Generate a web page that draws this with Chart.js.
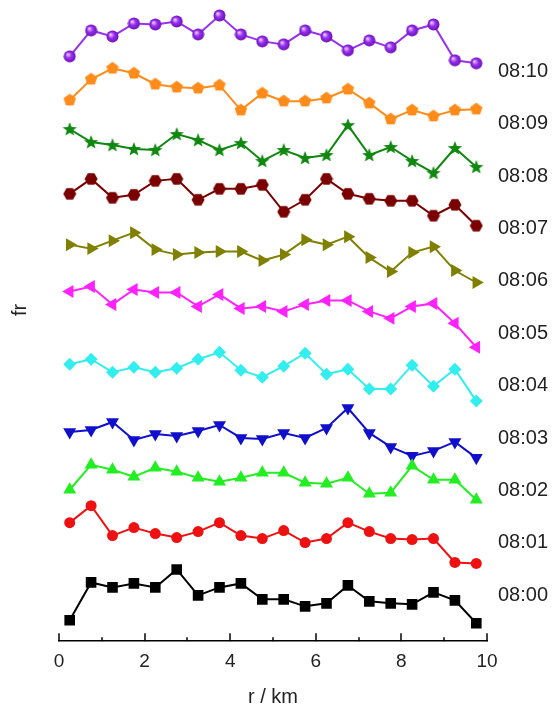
<!DOCTYPE html>
<html>
<head>
<meta charset="utf-8">
<script src="https://cdn.jsdelivr.net/npm/chart.js@4.4.1/dist/chart.umd.min.js"></script>
<style>
html,body{margin:0;padding:0;background:#fff;}
#wrap{position:relative;width:554px;height:713px;}
</style>
</head>
<body>
<div id="wrap"><canvas id="c" width="554" height="713"></canvas></div>
<script>
// r / km positions
const rValues = [0.25,0.75,1.25,1.75,2.25,2.75,3.25,3.75,4.25,4.75,5.25,5.75,6.25,6.75,7.25,7.75,8.25,8.75,9.25,9.75];
// series names (times)
const seriesNames = ['08:00','08:01','08:02','08:03','08:04','08:05','08:06','08:07','08:08','08:09','08:10'];
// fr values (vertically offset for display, arbitrary units)
const fr0800 = [2.1,5.9,5.4,5.8,5.4,7.2,4.6,5.4,5.8,4.2,4.2,3.5,3.8,5.6,4.0,3.8,3.7,4.9,4.1,1.8];
const fr0801 = [11.9,13.6,10.6,11.4,10.8,10.4,11.0,11.9,10.6,10.3,11.1,9.9,10.3,11.9,11.0,10.3,10.2,10.3,7.9,7.8];
const fr0802 = [15.2,17.7,17.2,16.5,17.4,17.0,16.4,16.0,16.4,16.9,16.9,15.9,15.8,16.4,14.8,14.9,17.6,16.2,16.2,14.2];
const fr0803 = [21.0,21.2,22.0,20.2,20.8,20.6,21.1,21.7,20.4,20.3,20.9,20.4,21.4,23.4,20.9,19.5,18.6,19.1,20.0,18.4];
const fr0804 = [27.8,28.3,27.0,27.5,27.0,27.4,28.3,29.0,27.2,26.5,27.6,28.9,26.8,27.3,25.3,25.3,27.7,25.6,27.3,24.1];
const fr0805 = [35.1,35.6,33.8,35.3,35.0,35.0,33.6,34.8,33.4,33.6,33.1,33.8,34.2,34.2,33.1,32.4,33.6,33.9,31.9,29.5];
const fr0806 = [39.8,39.4,40.2,41.0,39.3,38.8,39.0,39.1,39.1,38.2,38.8,40.3,39.8,40.6,38.5,37.1,39.0,39.6,37.2,36.0];
const fr0807 = [44.9,46.4,44.5,44.8,46.2,46.4,44.3,45.4,45.4,45.8,43.1,44.3,46.4,44.9,44.4,44.2,44.2,42.7,43.8,41.7];
const fr0808 = [51.4,50.1,49.8,49.4,49.3,50.9,50.3,49.3,50.0,48.2,49.3,48.5,48.8,51.8,48.8,49.6,48.2,47.0,49.5,47.6];
const fr0809 = [54.3,56.4,57.5,57.0,55.9,55.6,55.5,55.8,53.3,55.0,54.2,54.2,54.5,55.4,54.0,52.4,53.3,52.7,53.3,53.4];
const fr0810 = [58.7,61.3,60.7,62.0,61.9,62.2,60.9,62.8,60.9,60.2,59.9,61.3,60.7,59.3,60.3,59.6,61.3,61.9,58.3,58.0];
const xTicks = [0,2,4,6,8,10];

const allSeries = [fr0800,fr0801,fr0802,fr0803,fr0804,fr0805,fr0806,fr0807,fr0808,fr0809,fr0810];
const colors = ['#000000','#ee1111','#22ee22','#1010cc','#33eeee','#ff22ff','#808000','#7a0000','#108810','#ff8c1a','#9930ee'];

function makeCanvas(size, drawFn){
  const c = document.createElement('canvas');
  c.width = size; c.height = size;
  const g = c.getContext('2d');
  drawFn(g, size);
  return c;
}
function polygon(color, n, r, rot){
  return makeCanvas(14, (g,s)=>{
    g.fillStyle = color;
    g.beginPath();
    for(let i=0;i<n;i++){
      const a = rot + i*2*Math.PI/n;
      const x = s/2 + r*Math.cos(a), y = s/2 + r*Math.sin(a);
      i? g.lineTo(x,y) : g.moveTo(x,y);
    }
    g.closePath(); g.fill();
  });
}
function starShape(color){
  return makeCanvas(16, (g,s)=>{
    g.fillStyle = color;
    g.beginPath();
    for(let i=0;i<10;i++){
      const a = -Math.PI/2 + i*Math.PI/5;
      const r = i%2===0 ? 7.5 : 3.2;
      const x = s/2 + r*Math.cos(a), y = s/2 + 0.5 + r*Math.sin(a);
      i? g.lineTo(x,y) : g.moveTo(x,y);
    }
    g.closePath(); g.fill();
  });
}
function sphere(color){
  return makeCanvas(13, (g,s)=>{
    const grd = g.createRadialGradient(s/2-2, s/2-2, 0.5, s/2, s/2, 6);
    grd.addColorStop(0, '#e8c8ff');
    grd.addColorStop(0.45, color);
    grd.addColorStop(1, '#6a10b8');
    g.fillStyle = grd;
    g.beginPath(); g.arc(s/2, s/2, 6, 0, Math.PI*2); g.fill();
  });
}

const styles = [
  {pointStyle:'rect', radius:7.5, rotation:0},
  {pointStyle:'circle', radius:5.5, rotation:0},
  {pointStyle:'triangle', radius:7.5, rotation:0},
  {pointStyle:'triangle', radius:7.5, rotation:180},
  {pointStyle:'rectRot', radius:6.5, rotation:0},
  {pointStyle:'triangle', radius:7.5, rotation:270},
  {pointStyle:'triangle', radius:7.5, rotation:90},
  {pointStyle:polygon('#7a0000',6,6.5,0), radius:6, rotation:0},
  {pointStyle:starShape('#108810'), radius:6, rotation:0},
  {pointStyle:polygon('#ff8c1a',5,6.5,-Math.PI/2), radius:6, rotation:0},
  {pointStyle:sphere('#9930ee'), radius:6, rotation:0}
];

const datasets = allSeries.map((vals, k) => ({
  label: seriesNames[k],
  data: vals.map((v,i)=>({x:rValues[i], y:v})),
  borderColor: colors[k],
  backgroundColor: colors[k],
  borderWidth: 2,
  pointStyle: styles[k].pointStyle,
  pointRadius: styles[k].radius,
  pointRotation: styles[k].rotation,
  pointBorderWidth: 0,
  pointBackgroundColor: colors[k],
  pointBorderColor: colors[k],
  fill: false,
  tension: 0
}));

const decorPlugin = {
  id: 'decor',
  afterDraw(chart){
    const ctx = chart.ctx;
    const xs = chart.scales.x, ys = chart.scales.y;
    const yAxis = chart.chartArea.bottom;
    ctx.save();
    // inward tick marks
    ctx.strokeStyle = '#000';
    ctx.lineWidth = 1.5;
    for(let v = xs.min; v <= xs.max + 1e-9; v += 1){
      const px = Math.round(xs.getPixelForValue(v));
      const len = (Math.round(v) % 2 === 0) ? 8 : 4;
      ctx.beginPath(); ctx.moveTo(px, yAxis); ctx.lineTo(px, yAxis - len); ctx.stroke();
    }
    // series labels on the right
    ctx.fillStyle = '#222';
    ctx.font = '20px "Liberation Sans", Arial, sans-serif';
    ctx.textAlign = 'left';
    ctx.textBaseline = 'middle';
    seriesNames.forEach((name, k) => {
      const py = ys.getPixelForValue(4.6 + 5.26*k);
      ctx.fillText(name, xs.right + 11, py);
    });
    // y-axis title
    ctx.translate(20, 310);
    ctx.rotate(-Math.PI/2);
    ctx.textAlign = 'center';
    ctx.fillText('fr', 0, 0);
    ctx.restore();
  }
};

new Chart(document.getElementById('c'), {
  type: 'line',
  data: { datasets },
  plugins: [decorPlugin],
  options: {
    responsive: false,
    animation: false,
    devicePixelRatio: 1,
    layout: { padding: { left: 59, right: 67, top: 5, bottom: 0 } },
    plugins: { legend: { display: false }, tooltip: { enabled: false } },
    scales: {
      x: {
        type: 'linear',
        min: 0, max: 10,
        grid: { display: true, drawOnChartArea: false, drawTicks: false },
        border: { display: true, color: '#000', width: 1.5 },
        ticks: {
          stepSize: 1,
          autoSkip: false,
          padding: 9,
          color: '#222',
          font: { size: 19, family: '"Liberation Sans", Arial, sans-serif' },
          callback: (v) => xTicks.includes(v) ? String(v) : ''
        },
        title: {
          display: true,
          text: 'r / km',
          color: '#222',
          font: { size: 20, family: '"Liberation Sans", Arial, sans-serif' },
          padding: { top: 3, bottom: 4 }
        }
      },
      y: {
        display: false,
        min: 0, max: 63.6
      }
    }
  }
});
</script>
</body>
</html>
